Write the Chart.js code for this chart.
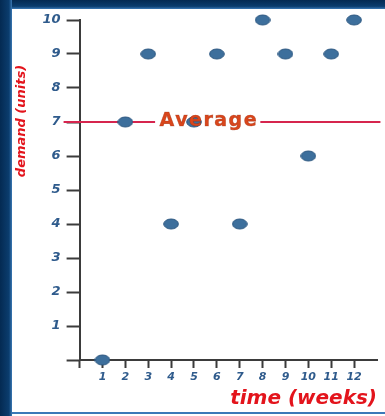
<!DOCTYPE html>
<html>
<head>
<meta charset="utf-8">
<script src="https://cdn.jsdelivr.net/npm/chart.js@4/dist/chart.umd.min.js"></script>
<style>
html,body{margin:0;padding:0;background:#fff;}
#wrap{position:absolute;left:0;top:0;width:385px;height:416px;}
</style>
</head>
<body>
<div id="wrap"><canvas id="c" width="385" height="416"></canvas></div>
<script>
// ---- data ----
const weeks = [1, 2, 3, 4, 5, 6, 7, 8, 9, 10, 11, 12];
const demand = [0, 7, 9, 4, 7, 9, 4, 10, 9, 6, 9, 10];
const averageValue = 7;
const averageLabel = 'Average';
const xTitle = 'time (weeks)';
const yTitle = 'demand (units)';
const yTickValues = [0, 1, 2, 3, 4, 5, 6, 7, 8, 9, 10];

// ---- styling constants ----
const axisColor = '#3b3b3b';
const tickFont = {family: '"DejaVu Sans"', size: 13, style: 'italic', weight: 'bold'};
const tickColor = '#2f5b8c';
const redTitle = '#e3141c';

// ellipse point marker
const dot = document.createElement('canvas');
dot.width = 16; dot.height = 12;
(function(){
  const g = dot.getContext('2d');
  g.beginPath();
  g.ellipse(8, 6, 7.3, 5, 0, 0, Math.PI * 2);
  g.fillStyle = '#3d6f9c';
  g.fill();
  g.lineWidth = 1;
  g.strokeStyle = '#2c5780';
  g.stroke();
})();

const points = weeks.map((w, i) => ({x: w, y: demand[i]}));
const avgLine = [
  {x: -0.7, y: averageValue},
  {x: 3.3, y: averageValue},
  {x: 4.3, y: null},
  {x: 7.9, y: averageValue},
  {x: 13.15, y: averageValue}
];

const framePlugin = {
  id: 'frame',
  beforeDraw(chart) {
    const ctx = chart.ctx;
    ctx.save();
    let g = ctx.createLinearGradient(0, 0, 12, 0);
    g.addColorStop(0, '#042a52');
    g.addColorStop(0.75, '#0b3d6e');
    g.addColorStop(1, '#3a78b4');
    ctx.fillStyle = g;
    ctx.fillRect(0, 0, 12, 416);
    g = ctx.createLinearGradient(0, 0, 0, 9);
    g.addColorStop(0, '#042a52');
    g.addColorStop(0.7, '#0b3d6e');
    g.addColorStop(1, '#3a78b4');
    ctx.fillStyle = g;
    ctx.fillRect(12, 0, 373, 9);
    ctx.fillStyle = '#3b79b8';
    ctx.fillRect(12, 412, 373, 2);
    ctx.restore();
  }
};

const labelsPlugin = {
  id: 'labels',
  afterDatasetsDraw(chart) {
    const ctx = chart.ctx;
    const xs = chart.scales.x, ys = chart.scales.y;
    ctx.save();
    // Average label
    ctx.font = 'bold 19px "DejaVu Sans"';
    if ('letterSpacing' in ctx) ctx.letterSpacing = '1.5px';
    ctx.fillStyle = '#d9461c';
    ctx.strokeStyle = 'rgba(150,40,10,0.5)';
    ctx.lineWidth = 0.6;
    ctx.textAlign = 'center';
    ctx.textBaseline = 'middle';
    const ax = xs.getPixelForValue(5.65), ay = ys.getPixelForValue(averageValue) - 1;
    ctx.fillText(averageLabel, ax, ay);
    ctx.strokeText(averageLabel, ax, ay);
    if ('letterSpacing' in ctx) ctx.letterSpacing = '0px';
    // y axis title
    ctx.translate(22, 121);
    ctx.rotate(-Math.PI / 2);
    ctx.font = 'italic bold 13px "DejaVu Sans"';
    ctx.fillStyle = redTitle;
    ctx.fillText(yTitle, 0, 0);
    ctx.restore();
  }
};

new Chart(document.getElementById('c'), {
  type: 'scatter',
  data: {
    datasets: [
      {
        type: 'line',
        label: 'Average',
        data: avgLine,
        borderColor: '#d6254e',
        borderWidth: 2,
        pointRadius: 0,
        spanGaps: false,
        clip: false,
        order: 2
      },
      {
        label: 'Demand',
        data: points,
        pointStyle: dot,
        pointRadius: 7,
        clip: false,
        order: 1
      }
    ]
  },
  plugins: [framePlugin, labelsPlugin],
  options: {
    responsive: false,
    animation: false,
    events: [],
    layout: {padding: {left: 12, top: 20, right: 5, bottom: 0}},
    plugins: {legend: {display: false}, tooltip: {enabled: false}},
    scales: {
      x: {
        type: 'linear',
        min: 0, max: 13,
        afterFit(s) { s.height = 56; },
        border: {color: axisColor, width: 2},
        grid: {
          drawOnChartArea: false,
          drawTicks: true,
          tickLength: 8,
          tickWidth: 2,
          tickColor: (c) => (c.tick && c.tick.value === 13) ? 'rgba(0,0,0,0)' : axisColor
        },
        ticks: {
          stepSize: 1,
          padding: 3,
          maxRotation: 0,
          autoSkip: false,
          color: tickColor,
          font: {family: '"DejaVu Sans"', size: 11, style: 'italic', weight: 'bold'},
          callback: (v) => (weeks.includes(v) ? String(v) : '')
        },
        title: {
          display: true,
          text: xTitle,
          align: 'end',
          color: redTitle,
          font: {family: '"DejaVu Sans"', size: 20, style: 'italic', weight: 'bold'},
          padding: {top: 0, bottom: 5}
        }
      },
      y: {
        type: 'linear',
        min: 0, max: 10,
        afterFit(s) { s.width = 67.6; },
        afterBuildTicks(s) { s.ticks = yTickValues.map(v => ({value: v})); },
        border: {color: axisColor, width: 2},
        grid: {
          drawOnChartArea: false,
          drawTicks: true,
          tickLength: 13,
          tickWidth: 2,
          tickColor: axisColor
        },
        ticks: {
          padding: 6,
          color: tickColor,
          font: tickFont,
          callback: (v) => (v === 0 ? '' : String(v))
        }
      }
    }
  }
});
</script>
</body>
</html>
